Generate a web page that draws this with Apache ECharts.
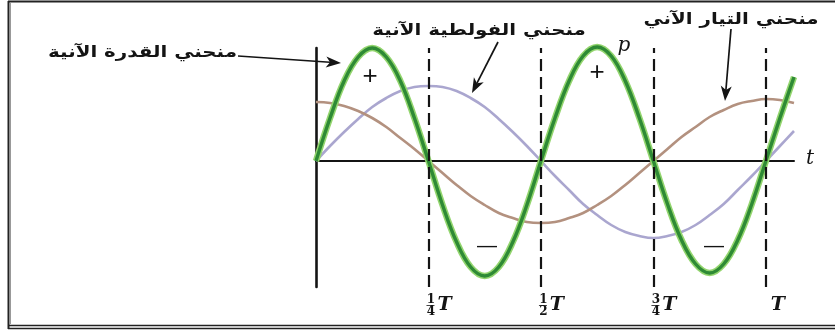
<!DOCTYPE html>
<html>
<head>
<meta charset="utf-8">
<script src="https://cdn.jsdelivr.net/npm/echarts@6/dist/echarts.min.js"></script>
<style>
  html, body { margin: 0; padding: 0; background: #fff; }
  #chart { width: 835px; height: 331px; }
</style>
</head>
<body>
<div id="chart"></div>
<script>
// Time in units of the period T (one sample every T/32)
const timeT = [0, 0.03125, 0.0625, 0.09375, 0.125, 0.15625, 0.1875, 0.21875,
  0.25, 0.28125, 0.3125, 0.34375, 0.375, 0.40625, 0.4375, 0.46875,
  0.5, 0.53125, 0.5625, 0.59375, 0.625, 0.65625, 0.6875, 0.71875,
  0.75, 0.78125, 0.8125, 0.84375, 0.875, 0.90625, 0.9375, 0.96875,
  1, 1.03125, 1.0625];

// Instantaneous power p (relative units)
const powerP = [0, 43, 80, 104, 113, 104, 80, 43,
  0, -44, -81, -106, -115, -106, -81, -44,
  0, 43, 80, 105, 114, 105, 80, 43,
  0, -43, -79, -103, -112, -103, -79, -43,
  0, 43, 84];

// Instantaneous voltage (relative units)
const voltageV = [0, 15, 29, 42, 54, 63, 70, 74,
  75, 74, 70, 63, 54, 42, 29, 15,
  0, -15, -29, -43, -54, -64, -71, -75,
  -77, -75, -71, -64, -54, -43, -29, -15,
  0, 15, 30];

// Instantaneous current (relative units)
const currentI = [59, 58, 55, 50, 43, 34, 23, 12,
  0, -12, -24, -35, -44, -52, -57, -61,
  -62, -61, -57, -52, -44, -35, -24, -12,
  0, 12, 24, 34, 44, 51, 57, 60,
  62, 61, 58];

// Marked instants and their labels (fraction of T)
const tickValues = [0.25, 0.5, 0.75, 1];
const tickFractions = [['1', '4'], ['1', '2'], ['3', '4'], null];

const curveNames = {
  power: 'منحني القدرة الآنية',
  voltage: 'منحني الفولطية الآنية',
  current: 'منحني التيار الآني'
};

const toPairs = (ys) => ys.map((y, i) => [timeT[i], y]);

const ink = '#141414';

// Arrow built from a shaft and a filled head
function arrow(x1, y1, x2, y2) {
  const ang = Math.atan2(y2 - y1, x2 - x1);
  const len = 15, half = 5.5;
  const bx = x2 - len * Math.cos(ang), by = y2 - len * Math.sin(ang);
  const px = -Math.sin(ang) * half, py = Math.cos(ang) * half;
  return {
    type: 'group',
    children: [
      { type: 'line', shape: { x1: x1, y1: y1, x2: bx + 4 * Math.cos(ang), y2: by + 4 * Math.sin(ang) },
        style: { stroke: ink, lineWidth: 1.7 } },
      { type: 'polygon',
        shape: { points: [[x2, y2], [bx + px, by + py], [bx + 4 * Math.cos(ang), by + 4 * Math.sin(ang)], [bx - px, by - py]] },
        style: { fill: ink } }
    ]
  };
}

function label(text, x, y, font, align, sx) {
  return {
    type: 'text', x: x, y: y, scaleX: sx || 1,
    style: { text: text, x: 0, y: 0, font: font, fill: ink,
      textAlign: align || 'center', textVerticalAlign: 'middle' }
  };
}

// Arabic captions: bold sans, widened a little
const capFont = 'bold 16px "DejaVu Sans"';
const capScale = 1.24;

const chart = echarts.init(document.getElementById('chart'), null, { renderer: 'canvas' });

chart.setOption({
  animation: false,
  backgroundColor: '#ffffff',
  grid: { left: 316, right: 41, top: 48, bottom: 44, containLabel: false },
  xAxis: [
    {
      type: 'value', min: 0, max: 1.0625, interval: 0.25,
      axisLine: { show: true, onZero: true, lineStyle: { color: ink, width: 2 } },
      axisTick: { show: false }, axisLabel: { show: false }, splitLine: { show: false }
    },
    {
      type: 'value', min: 0, max: 1.0625, interval: 0.25, position: 'bottom',
      axisLine: { show: false, onZero: false }, axisTick: { show: false }, splitLine: { show: false },
      axisLabel: {
        show: true, margin: 8, customValues: tickValues,
        padding: [0, 0, 0, 24],
        formatter: function (v) {
          const i = tickValues.indexOf(v);
          if (i < 0) return '';
          const f = tickFractions[i];
          if (!f) return '{sp| }\n{T|T}\n{sp| }';
          return '{n|' + f[0] + '}{gap| }\n{bar| }{T|T}\n{n|' + f[1] + '}{gap| }';
        },
        rich: {
          n: { fontFamily: 'DejaVu Serif', fontWeight: 'bold', fontSize: 12, width: 9, align: 'center', lineHeight: 9, color: ink },
          gap: { width: 19, lineHeight: 9, fontSize: 9 },
          sp: { width: 19, lineHeight: 9, fontSize: 9 },
          bar: { width: 8, height: 1, lineHeight: 3, fontSize: 3, backgroundColor: '#444' },
          T: { fontFamily: 'DejaVu Serif', fontStyle: 'italic', fontWeight: 'bold', fontSize: 19, width: 20, align: 'center', lineHeight: 3, color: ink }
        }
      }
    }
  ],
  yAxis: {
    type: 'value', min: -126, max: 113,
    axisLine: { show: true, onZero: true, lineStyle: { color: ink, width: 2.6 } },
    axisTick: { show: false }, axisLabel: { show: false }, splitLine: { show: false }
  },
  series: [
    {
      name: curveNames.voltage, type: 'line', data: toPairs(voltageV), smooth: 0.4,
      showSymbol: false, clip: false, lineStyle: { color: '#aaa6cf', width: 2.6 },
      markLine: {
        silent: true, symbol: ['none', 'none'], label: { show: false },
        lineStyle: { color: ink, width: 2.2, type: [12, 6] },
        data: tickValues.map(v => ({ xAxis: v }))
      }
    },
    {
      name: curveNames.current, type: 'line', data: toPairs(currentI), smooth: 0.4,
      showSymbol: false, clip: false, lineStyle: { color: '#b3917f', width: 2.6 }
    },
    {
      name: curveNames.power, type: 'line', data: toPairs(powerP), smooth: 0.4,
      showSymbol: false, clip: false, lineStyle: { color: '#93d56e', width: 6.5, join: 'round' }
    },
    {
      name: curveNames.power, type: 'line', data: toPairs(powerP), smooth: 0.4,
      showSymbol: false, clip: false, lineStyle: { color: '#2e8a35', width: 3.4, join: 'round' }
    }
  ],
  graphic: [
    // frame
    { type: 'line', shape: { x1: 8, y1: 1.5, x2: 835, y2: 1.5 }, style: { stroke: '#222', lineWidth: 2.2 } },
    { type: 'line', shape: { x1: 8.5, y1: 1, x2: 8.5, y2: 329 }, style: { stroke: '#222', lineWidth: 2 } },
    { type: 'line', shape: { x1: 10.5, y1: 3, x2: 10.5, y2: 324 }, style: { stroke: '#999', lineWidth: 1 } },
    { type: 'line', shape: { x1: 8, y1: 325.5, x2: 835, y2: 325.5 }, style: { stroke: '#222', lineWidth: 1.5 } },
    { type: 'line', shape: { x1: 8, y1: 328.5, x2: 835, y2: 328.5 }, style: { stroke: '#222', lineWidth: 1.5 } },
    // curve captions and pointers
    label(curveNames.power, 237, 53, capFont, 'right', capScale),
    arrow(238, 56, 341, 63),
    label(curveNames.voltage, 479, 31, capFont, 'center', capScale),
    arrow(498, 42, 472, 93),
    label(curveNames.current, 731, 20, capFont, 'center', capScale),
    arrow(731, 29, 725, 101),
    // sign of the power in each quarter
    label('+', 370, 77, '26px "Liberation Sans"'),
    label('+', 597, 73, '26px "Liberation Sans"'),
    label('\u2014', 487, 246, '20px "Liberation Sans"'),
    label('\u2014', 714, 246, '20px "Liberation Sans"'),
    // axis letters
    label('p', 624, 46, 'italic 20px "DejaVu Serif"'),
    label('t', 810, 159, 'italic 20px "DejaVu Serif"')
  ]
});
</script>
</body>
</html>
